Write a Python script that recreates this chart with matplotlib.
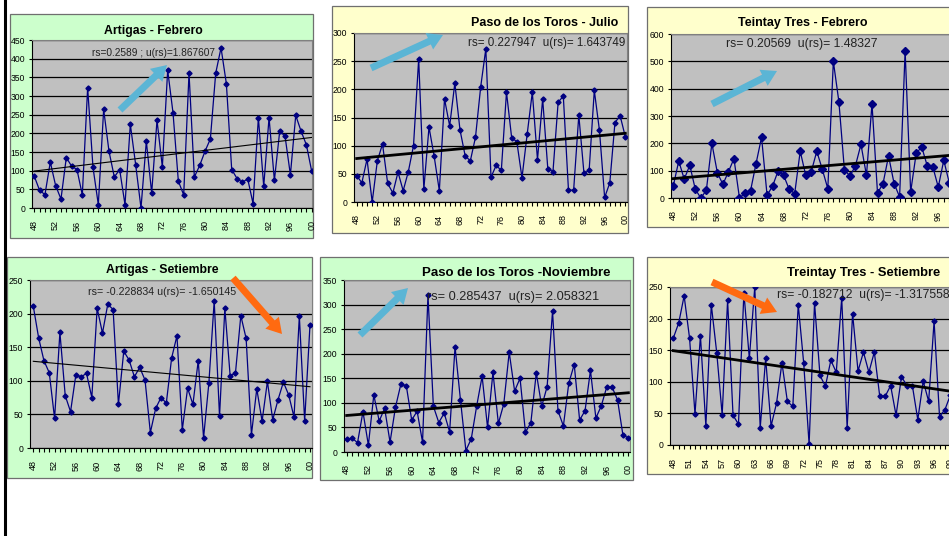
import matplotlib
matplotlib.use("Agg")
import matplotlib.pyplot as plt
import numpy as np
from matplotlib.patches import Rectangle, FancyArrow
from matplotlib.lines import Line2D
from matplotlib.transforms import IdentityTransform

plt.rcParams['font.family'] = ['Liberation Sans', 'DejaVu Sans']

years = list(range(1948, 2001))

artigas_feb = [85, 47, 36, 123, 60, 24, 135, 112, 103, 35,
               322, 109, 9, 264, 152, 83, 103, 9, 224, 116,
               0, 179, 40, 235, 110, 369, 255, 72, 35, 361,
               83, 114, 152, 185, 361, 429, 333, 103, 79, 69,
               78, 12, 242, 58, 242, 74, 206, 192, 89, 248,
               206, 169, 98]

paso_jul = [47, 34, 76, 0, 73, 103, 33, 16, 53, 20,
            54, 100, 254, 23, 133, 81, 20, 183, 135, 211,
            128, 82, 73, 115, 204, 272, 44, 65, 56, 195,
            114, 107, 43, 120, 195, 75, 183, 59, 54, 177,
            188, 21, 21, 154, 51, 56, 198, 127, 8, 34,
            141, 153, 116]

# 1948-1998
treinta_feb = [43, 135, 69, 120, 32, 0, 28, 200, 92, 50,
               96, 144, 0, 18, 26, 126, 222, 10, 44, 99,
               83, 32, 16, 171, 83, 96, 171, 105, 34, 500,
               353, 104, 80, 118, 196, 83, 344, 18, 53, 154,
               53, 4, 539, 22, 163, 187, 118, 115, 40, 138,
               55]

artigas_set = [211, 164, 130, 112, 44, 172, 78, 54, 109, 106,
               111, 75, 208, 171, 214, 206, 65, 144, 131, 106,
               120, 101, 23, 59, 75, 67, 134, 167, 27, 89,
               65, 130, 15, 97, 219, 47, 208, 107, 112, 197,
               163, 20, 88, 40, 99, 42, 72, 98, 79, 46,
               196, 40, 183]

paso_nov = [26, 28, 19, 82, 14, 116, 63, 89, 20, 91,
            138, 135, 65, 83, 20, 319, 93, 60, 79, 41,
            214, 106, 3, 27, 94, 154, 50, 162, 58, 98,
            203, 124, 150, 40, 60, 161, 93, 133, 287, 84,
            53, 140, 178, 65, 84, 166, 69, 94, 132, 132,
            106, 34, 29]

# 1948-1999
treinta_set = [169, 193, 236, 169, 49, 173, 30, 222, 146, 48,
               229, 47, 33, 241, 137, 250, 27, 137, 30, 66,
               130, 69, 61, 222, 130, 1, 225, 110, 93, 134,
               115, 233, 27, 208, 117, 147, 115, 147, 77, 77,
               94, 47, 108, 94, 94, 40, 101, 69, 196, 45,
               56, 79]

titles = ["Artigas - Febrero", "Paso de los Toros - Julio", "Teintay Tres - Febrero",
          "Artigas - Setiembre", "Paso de los Toros -Noviembre", "Treintay Tres - Setiembre"]
stats = ["rs=0.2589 ; u(rs)=1.867607",
         "rs= 0.227947  u(rs)= 1.643749",
         "rs= 0.20569  u(rs)= 1.48327",
         "rs= -0.228834 u(rs)= -1.650145",
         "rs= 0.285437  u(rs)= 2.058321",
         "rs= -0.182712  u(rs)= -1.317558"]

W, H = 949, 536
GREEN = '#CCFFCC'
YELLOW = '#FFFFCC'
BLUE_ARROW = '#5BB5D5'
ORANGE_ARROW = '#FF6A10'


def frac(x0, y0, x1, y1):
    return [x0 / W, 1 - y1 / H, (x1 - x0) / W, (y1 - y0) / H]


fig = plt.figure(figsize=(W / 100, H / 100), dpi=100)
fig.patch.set_facecolor('white')

# left page rule
fig.add_artist(Line2D([4.5 / W, 4.5 / W], [0, 1], color='black', lw=2.2,
                      transform=fig.transFigure))

panels = [
    # data, box, plot area, xlim, ymax, ystep, bg, label step, trend lw, marker size
    dict(data=artigas_feb, box=(10, 14, 313, 238), area=(32, 40, 312, 208),
         xlim=(1947.57, 2000.05), ymax=450, ystep=50, bg=GREEN, lstep=4, tlw=0.8, ms=2.6,
         title=(153, 31, 'center', 8.8), stat=(153, 53, 'center', 7.3),
         arrow=((120, 110), (167, 65), BLUE_ARROW)),
    dict(data=paso_jul, box=(332, 6, 628, 233), area=(354, 33, 627, 202),
         xlim=(1947.48, 2000.33), ymax=300, ystep=50, bg=YELLOW, lstep=4, tlw=2.0, ms=2.6,
         title=(618, 23, 'right', 9.0), stat=(625, 43, 'right', 8.4),
         arrow=((371, 68), (443, 35), BLUE_ARROW)),
    dict(data=treinta_feb, box=(647, 7, 975, 227), area=(671, 34, 962, 198),
         xlim=(1947.6, 2000.3), ymax=600, ystep=100, bg=YELLOW, lstep=4, tlw=2.0, ms=3.6,
         title=(803, 23, 'center', 9.0), stat=(802, 44, 'center', 8.8),
         arrow=((712, 104), (777, 71), BLUE_ARROW)),
    dict(data=artigas_set, box=(7, 257, 312, 478), area=(30, 280, 312, 448),
         xlim=(1947.38, 2000.38), ymax=250, ystep=50, bg=GREEN, lstep=4, tlw=0.8, ms=2.6,
         title=(162, 270, 'center', 8.8), stat=(162, 292, 'center', 7.7),
         arrow=((233, 278), (282, 334), ORANGE_ARROW)),
    dict(data=paso_nov, box=(320, 257, 633, 480), area=(344, 280, 630, 452),
         xlim=(1947.5, 2000.3), ymax=350, ystep=50, bg=GREEN, lstep=4, tlw=2.0, ms=2.6,
         title=(516, 273, 'center', 9.5), stat=(427, 297, 'left', 9.2),
         arrow=((360, 335), (408, 288), BLUE_ARROW)),
    dict(data=treinta_set, box=(647, 257, 975, 474), area=(670, 287, 958, 445),
         xlim=(1947.4, 2000.4), ymax=250, ystep=50, bg=YELLOW, lstep=3, tlw=2.0, ms=2.6,
         title=(864, 273, 'center', 9.3), stat=(777, 295, 'left', 8.7),
         arrow=((712, 282), (777, 312), ORANGE_ARROW)),
]

for p, title, stat in zip(panels, titles, stats):
    x0, y0, x1, y1 = p['box']
    fig.add_artist(Rectangle((x0 / W, 1 - y1 / H), (x1 - x0) / W, (y1 - y0) / H,
                             facecolor=p['bg'], edgecolor='#6f6f6f', lw=0.9,
                             transform=fig.transFigure, zorder=-1))

    ax = fig.add_axes(frac(*p['area']))
    ax.set_facecolor('#C0C0C0')

    yrs = np.array(years[:len(p['data'])])
    vals = np.array(p['data'], dtype=float)
    ax.plot(yrs, vals, color='#000080', lw=0.9, marker='D', ms=p['ms'],
            markerfacecolor='#000080', markeredgecolor='#000080', zorder=3)

    # linear trend
    k, b = np.polyfit(yrs, vals, 1)
    tx = np.array([years[0], years[-1]])
    ax.plot(tx, k * tx + b, color='black', lw=p['tlw'], zorder=4)

    ax.set_xlim(*p['xlim'])
    ax.set_ylim(0, p['ymax'])
    ax.set_yticks(np.arange(0, p['ymax'] + 1, p['ystep']))
    ax.yaxis.grid(True, color='black', lw=0.9)
    ax.set_axisbelow(True)

    ax.set_xticks(years)
    ax.set_xticklabels([f"{y % 100:02d}" if (y - 1948) % p['lstep'] == 0 else ''
                        for y in years], rotation=90)
    ax.tick_params(axis='x', direction='out', length=3, width=0.8, pad=6, labelsize=6.5)
    ax.tick_params(axis='y', length=2, width=0.8, pad=3, labelsize=6.2)

    for side in ('left', 'bottom'):
        ax.spines[side].set_color('black')
        ax.spines[side].set_linewidth(0.8)
    for side in ('top', 'right'):
        ax.spines[side].set_color('#808080')
        ax.spines[side].set_linewidth(0.8)

    tx_, ty_, tha, tsz = p['title']
    fig.text(tx_ / W, 1 - ty_ / H, title, ha=tha, va='center', fontsize=tsz,
             fontweight='bold', color='black')
    sx, sy, sha, ssz = p['stat']
    fig.text(sx / W, 1 - sy / H, stat, ha=sha, va='center', fontsize=ssz,
             color='#222222', zorder=6)

    (ax0, ay0), (ax1, ay1), col = p['arrow']
    fig.add_artist(FancyArrow(ax0, H - ay0, ax1 - ax0, -(ay1 - ay0), width=7,
                              head_width=18, head_length=15, length_includes_head=True,
                              color=col, lw=0, transform=IdentityTransform(), zorder=7))

fig.savefig('out.png', dpi=100)
